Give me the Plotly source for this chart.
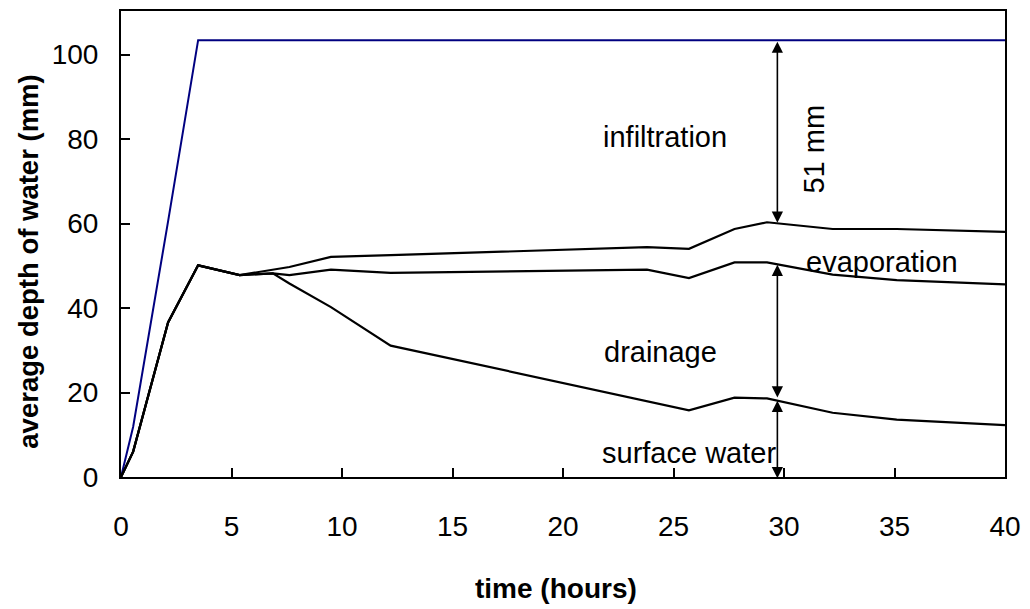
import plotly.graph_objects as go

# time (hours)
time = [0, 0.55, 2.13, 3.49, 5.37, 6.87, 7.62, 9.5, 12.2, 23.8, 25.7, 27.76, 29.23, 32.2, 35.1, 40]
# cumulative depths (mm)
total_water = [0, 11.9, 60.5, 103.4, 103.4, 103.4, 103.4, 103.4, 103.4, 103.4, 103.4, 103.4, 103.4, 103.4, 103.4, 103.4]
upper_curve = [0, 6.0, 36.6, 50.1, 47.8, 49.1, 49.7, 52.1, 52.5, 54.4, 54.0, 58.7, 60.3, 58.7, 58.7, 58.0]
middle_curve = [0, 6.0, 36.6, 50.1, 47.8, 48.2, 47.8, 49.1, 48.3, 49.1, 47.1, 50.8, 50.8, 47.9, 46.6, 45.6]
lower_curve = [0, 6.0, 36.6, 50.1, 47.8, 48.2, 45.8, 40.2, 31.1, 18.0, 15.8, 18.8, 18.6, 15.2, 13.6, 12.3]

x_ticks = [0, 5, 10, 15, 20, 25, 30, 35, 40]
y_ticks = [0, 20, 40, 60, 80, 100]

region_labels = ["infiltration", "evaporation", "drainage", "surface water"]
region_label_x = [24.6, 34.45, 24.4, 25.72]
region_label_y = [80.4, 50.8, 29.6, 5.6]

arrow_x = 29.7
arrow_spans = [(103.4, 60.2), (50.6, 18.8), (18.4, -0.3)]

FONT = "Arial, Liberation Sans, sans-serif"

fig = go.Figure()
fig.add_trace(go.Scatter(x=time, y=total_water, mode="lines",
                         line=dict(color="#000080", width=2), showlegend=False))
for ys in (upper_curve, middle_curve, lower_curve):
    fig.add_trace(go.Scatter(x=time, y=ys, mode="lines",
                             line=dict(color="black", width=2.2), showlegend=False))

annotations = []
for txt, xx, yy in zip(region_labels, region_label_x, region_label_y):
    annotations.append(dict(x=xx, y=yy, xref="x", yref="y", text=txt, showarrow=False,
                            xanchor="center", yanchor="middle",
                            font=dict(family=FONT, size=29, color="black")))
annotations.append(dict(x=31.35, y=77.7, xref="x", yref="y", text="51 mm", showarrow=False,
                        xanchor="center", yanchor="middle",
                        textangle=-90, font=dict(family=FONT, size=29, color="black")))
for y_from, y_to in arrow_spans:
    annotations.append(dict(x=arrow_x, y=y_to, ax=arrow_x, ay=y_from, xref="x", yref="y",
                            axref="x", ayref="y", text="", showarrow=True,
                            arrowhead=2, arrowside="end+start", arrowsize=1.4,
                            arrowwidth=1.6, arrowcolor="black", standoff=0, startstandoff=0))
annotations.append(dict(x=28, y=261.5, xref="paper", yref="paper", text="<b>average depth of water (mm)</b>",
                        showarrow=False, textangle=-90, xanchor="center", yanchor="middle",
                        font=dict(family=FONT, size=27.5, color="black")))
annotations.append(dict(x=558.5, y=590, xref="paper", yref="paper", text="<b>time (hours)</b>",
                        showarrow=False, xanchor="center", yanchor="middle",
                        font=dict(family=FONT, size=28, color="black")))

# convert pixel positions for axis titles to paper coords
L, R, T, B = 121, 20, 9, 131.5
W, H = 1030, 609
pw, ph = W - L - R, H - T - B
for a in annotations:
    if a.get("xref") == "paper":
        px, py = a["x"], a["y"]
        a["x"] = (px - L) / pw
        a["y"] = (H - B - py) / ph

fig.update_layout(
    width=W, height=H,
    margin=dict(l=L, r=R, t=T, b=B),
    paper_bgcolor="white", plot_bgcolor="white",
    font=dict(family=FONT, size=28, color="black"),
    annotations=annotations,
    xaxis=dict(range=[0, 40], tickvals=x_ticks, ticks="inside", ticklen=9, tickwidth=2,
               tickcolor="black", showline=True, linecolor="black", linewidth=2, mirror=True,
               showgrid=False, zeroline=False, ticklabelstandoff=23,
               tickfont=dict(family=FONT, size=28, color="black")),
    yaxis=dict(range=[0, 110.3], tickvals=y_ticks, ticks="inside", ticklen=9, tickwidth=2,
               tickcolor="black", showline=True, linecolor="black", linewidth=2, mirror=True,
               showgrid=False, zeroline=False, ticklabelstandoff=15,
               tickfont=dict(family=FONT, size=28, color="black")),
)

fig.write_html("out.html")
